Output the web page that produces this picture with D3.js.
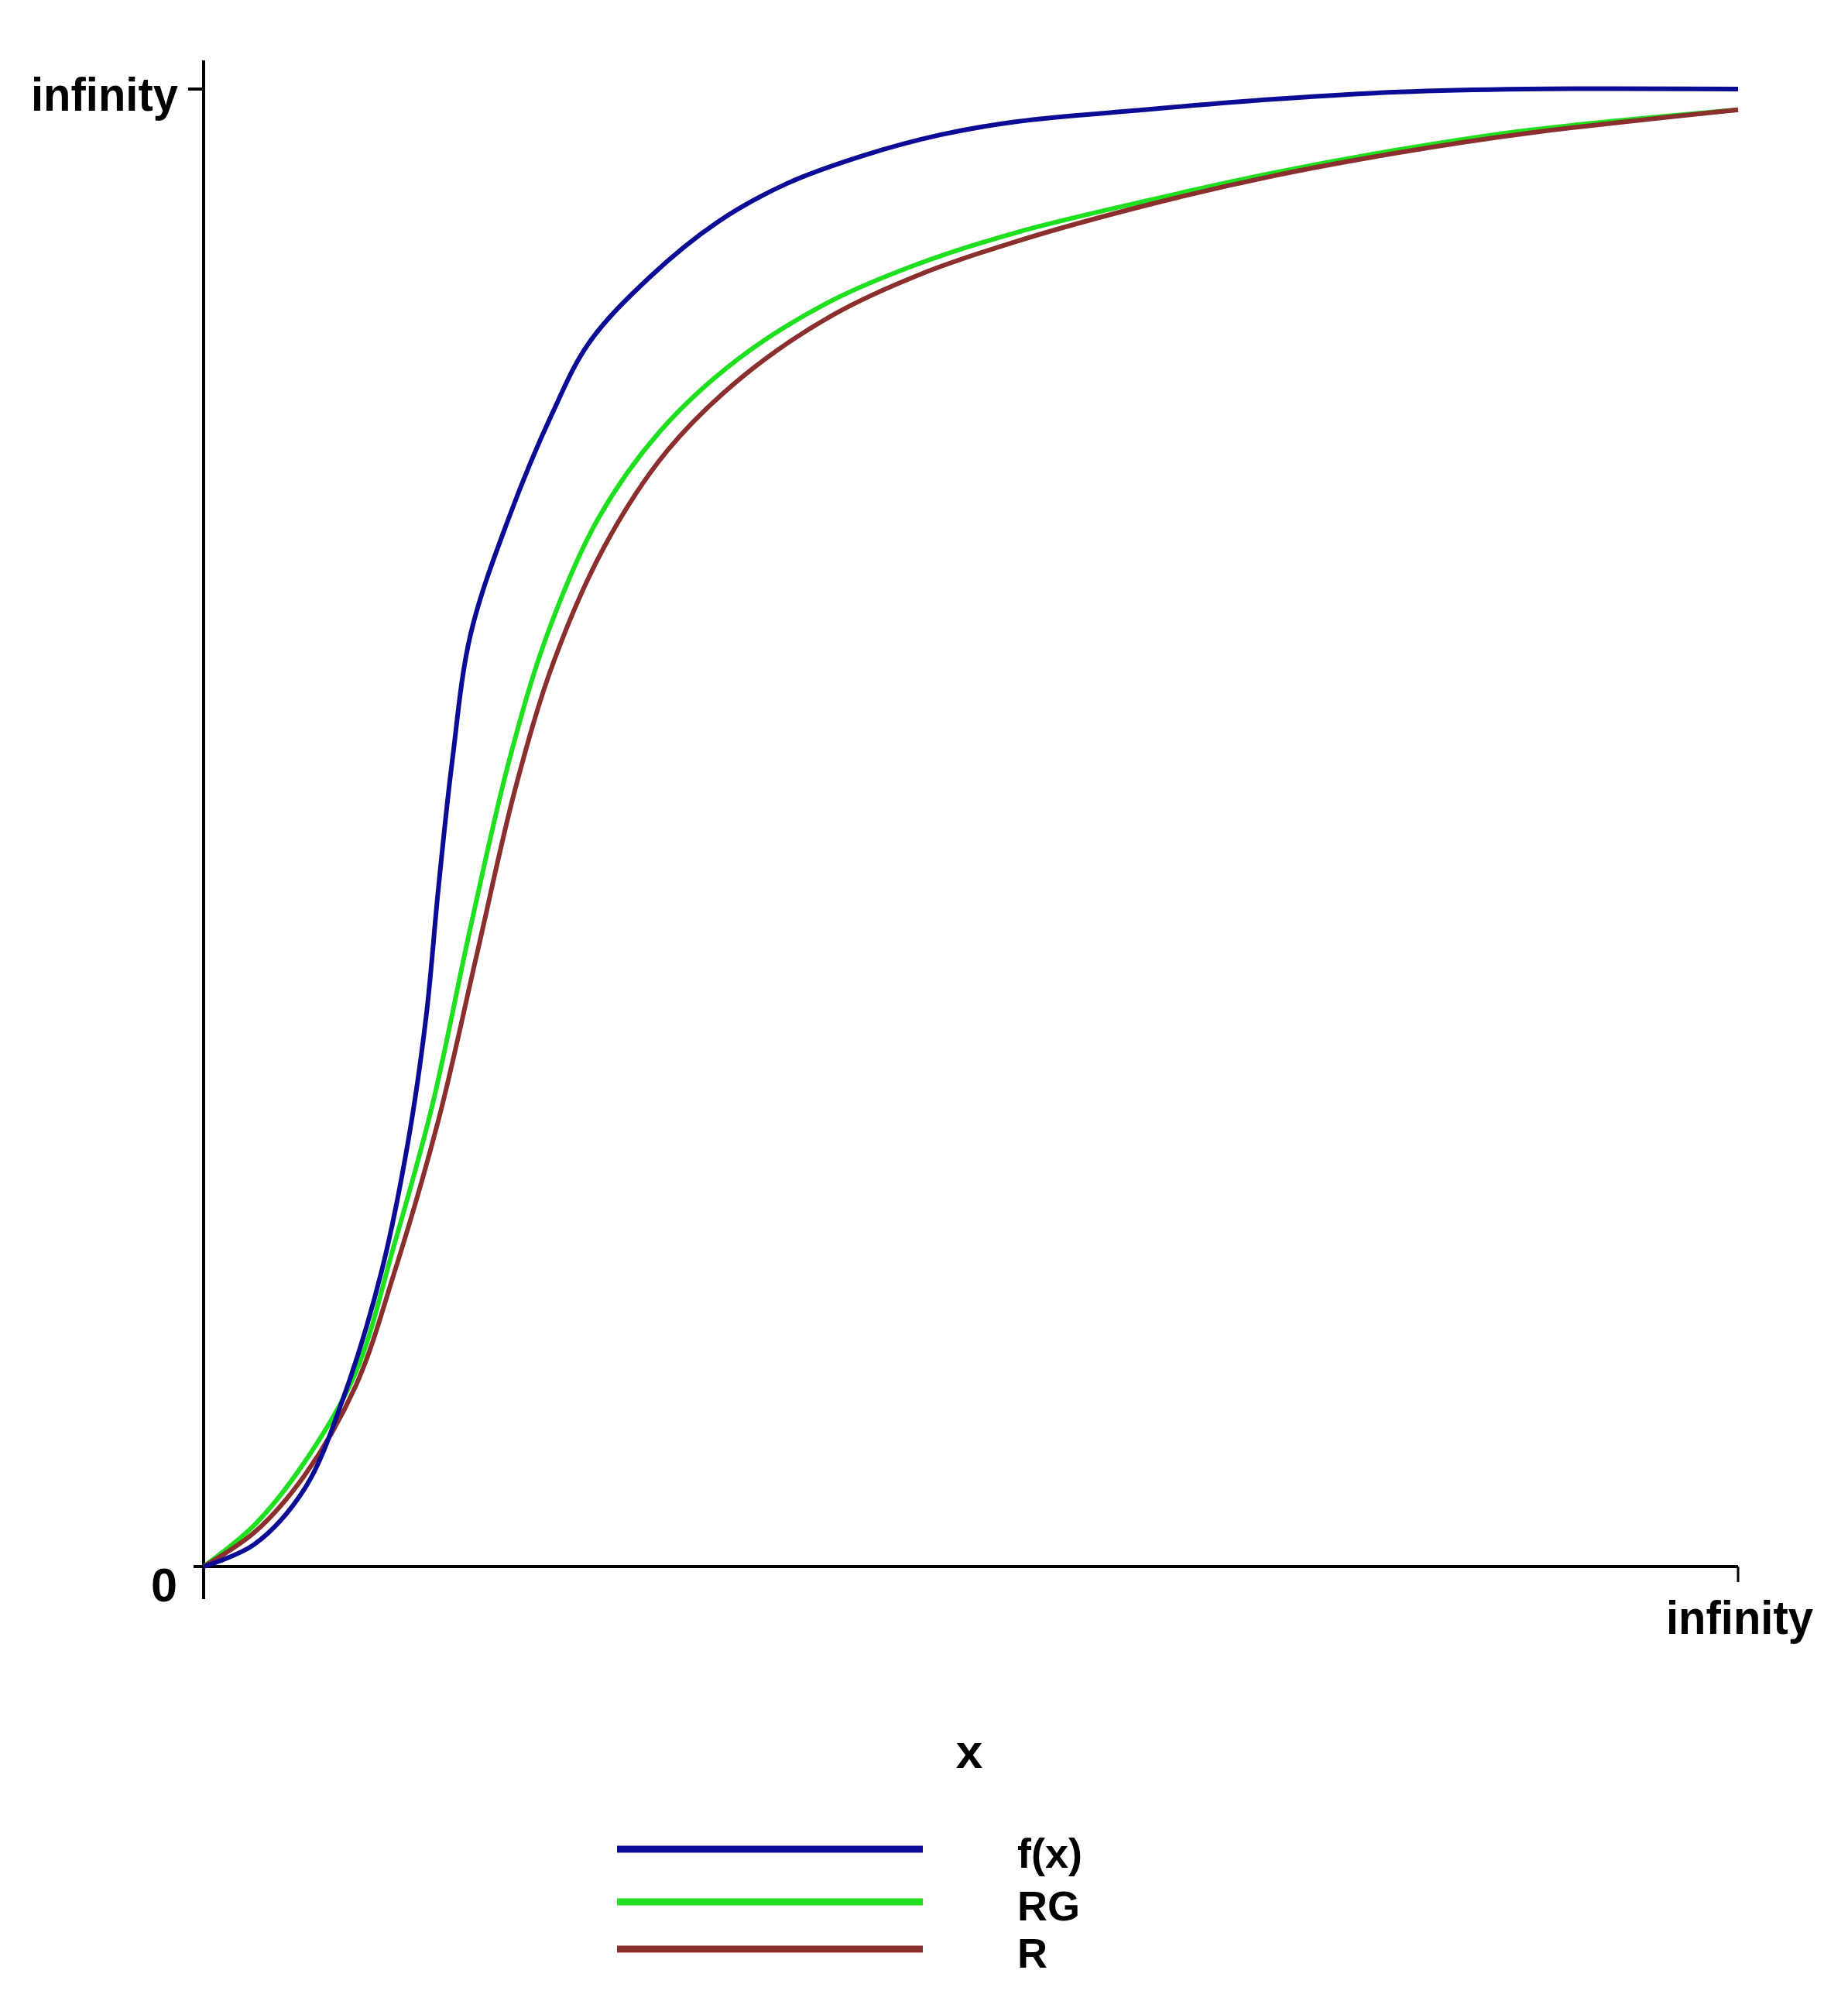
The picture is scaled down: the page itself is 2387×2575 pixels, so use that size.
<!DOCTYPE html>
<html>
<head>
<meta charset="utf-8">
<script src="https://cdn.jsdelivr.net/npm/d3@7"></script>
<style>
  body { margin: 0; background: #fff; }
  text { font-family: "Liberation Sans", Arial, sans-serif; font-weight: bold; fill: #000; }
</style>
</head>
<body>
<svg id="chart" width="2387" height="2575"></svg>
<script>
// x and y in percent of the way from 0 to "infinity"
const fxX = [0, 3.3, 6.6, 9.1, 11.6, 13.3, 14.5, 15.3, 16.2, 17.4, 19.9, 22.7, 25.1, 29.0, 33.5, 38.0, 43.0, 48.0, 53.0, 61.3, 69.6, 77.9, 86.2, 100];
const fxY = [0, 1.5, 5.3, 11.4, 20.0, 28.6, 37.2, 45.9, 54.5, 63.1, 71.0, 78.0, 82.8, 87.2, 91.0, 93.6, 95.5, 96.9, 97.8, 98.6, 99.3, 99.8, 100, 100];

const rgX = [0, 3.3, 6.6, 9.9, 12.4, 14.9, 17.4, 19.9, 22.4, 25.7, 29.8, 34.8, 40.6, 46.4, 53.0, 61.3, 69.6, 77.9, 86.2, 100];
const rgY = [0, 2.8, 7.1, 13.1, 21.7, 31.2, 43.3, 54.5, 63.1, 70.9, 76.9, 81.7, 85.5, 88.1, 90.3, 92.4, 94.3, 95.9, 97.2, 98.6];

const rX = [0, 3.3, 6.6, 9.9, 12.4, 15.3, 17.8, 20.3, 22.8, 26.1, 30.2, 35.2, 41.0, 46.8, 53.0, 61.3, 69.6, 77.9, 86.2, 100];
const rY = [0, 2.3, 6.2, 12.2, 19.8, 30.2, 41.4, 52.6, 61.2, 69.0, 75.5, 80.6, 84.7, 87.5, 89.7, 92.1, 94.1, 95.7, 97.0, 98.6];

const seriesNames = ["f(x)", "RG", "R"];
const colors = ["#0b0b96", "#1ee01e", "#8b2e2e"];

const svg = d3.select("#chart");
const x = d3.scaleLinear().domain([0, 100]).range([263, 2245]);
const y = d3.scaleLinear().domain([0, 100]).range([2023, 115]);

// axes
svg.append("line").attr("x1", 263).attr("x2", 263).attr("y1", 78).attr("y2", 2065)
  .attr("stroke", "#000").attr("stroke-width", 4);
svg.append("line").attr("x1", 250).attr("x2", x(100)).attr("y1", y(0)).attr("y2", y(0))
  .attr("stroke", "#000").attr("stroke-width", 4);
svg.append("line").attr("x1", 243).attr("x2", 263).attr("y1", y(100)).attr("y2", y(100))
  .attr("stroke", "#000").attr("stroke-width", 4);
svg.append("line").attr("x1", x(100)).attr("x2", x(100)).attr("y1", y(0)).attr("y2", y(0) + 20)
  .attr("stroke", "#000").attr("stroke-width", 3);

// tick labels
svg.append("text").attr("x", 40).attr("y", 143).attr("font-size", 62)
  .attr("textLength", 190).attr("lengthAdjust", "spacingAndGlyphs").text("infinity");
svg.append("text").attr("x", 195).attr("y", 2068).attr("font-size", 62)
  .attr("textLength", 34).attr("lengthAdjust", "spacingAndGlyphs").text("0");
svg.append("text").attr("x", 2152).attr("y", 2110).attr("font-size", 62)
  .attr("textLength", 190).attr("lengthAdjust", "spacingAndGlyphs").text("infinity");
svg.append("text").attr("x", 1252).attr("y", 2283).attr("font-size", 62)
  .attr("text-anchor", "middle").text("x");

// curves
const line = d3.line().x(d => x(d[0])).y(d => y(d[1])).curve(d3.curveCatmullRom.alpha(0.5));
const series = [
  d3.zip(fxX, fxY),
  d3.zip(rgX, rgY),
  d3.zip(rX, rY)
];
// draw green first, then red, then blue on top
[1, 2, 0].forEach(i => {
  svg.append("path").datum(series[i]).attr("d", line)
    .attr("fill", "none").attr("stroke", colors[i]).attr("stroke-width", 6);
});

// legend
const legendY = [2388, 2456, 2517];
seriesNames.forEach((name, i) => {
  svg.append("line").attr("x1", 797).attr("x2", 1192)
    .attr("y1", legendY[i]).attr("y2", legendY[i])
    .attr("stroke", colors[i]).attr("stroke-width", 9);
  svg.append("text").attr("x", 1314).attr("y", legendY[i] + 24)
    .attr("font-size", 54).text(name);
});
</script>
</body>
</html>
